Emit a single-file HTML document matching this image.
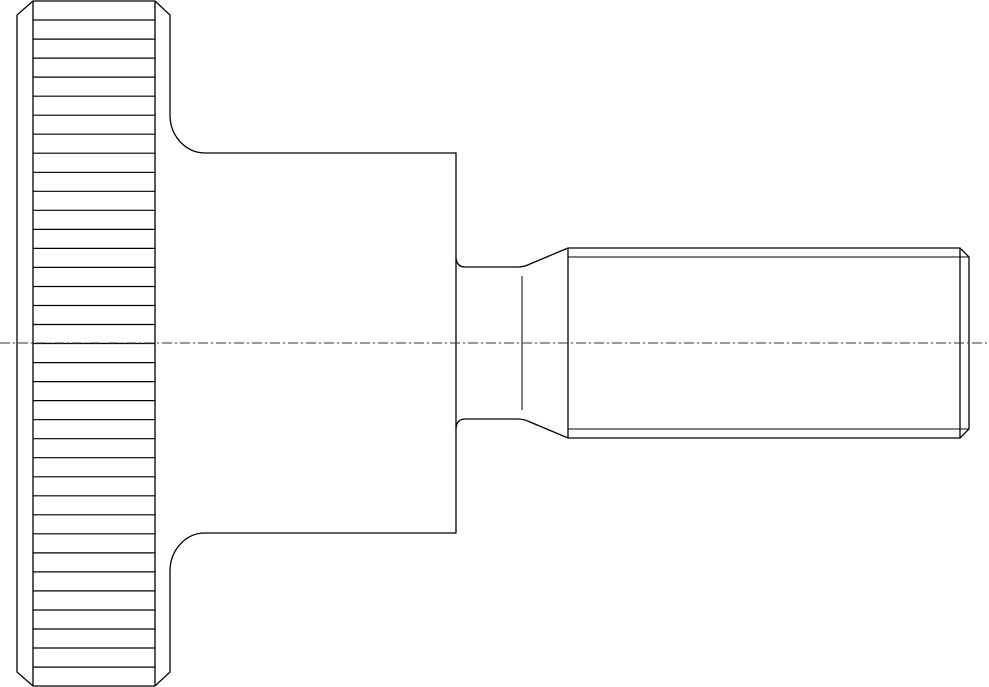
<!DOCTYPE html>
<html><head><style>html,body{margin:0;padding:0;background:#fff}svg{display:block}</style></head>
<body>
<svg width="989" height="687" viewBox="0 0 989 687" xmlns="http://www.w3.org/2000/svg">
<g fill="none" stroke="#000" stroke-width="1.3">
<path d="M33 1 L155 1 L170 15 L170 115 A35 38 0 0 0 205 153 L456 153 L456 533 L205 533 A35 38 0 0 0 170 571 L170 672 L155 686 L33 686 L17 672 L17 15 Z"/>
<line x1="33" y1="1" x2="33" y2="686"/>
<line x1="155" y1="1" x2="155" y2="686"/>
<path stroke-width="1.2" d="M33 20H155M33 39.1H155M33 58.1H155M33 77.1H155M33 96.2H155M33 115.2H155M33 134.2H155M33 153.2H155M33 172.3H155M33 191.3H155M33 210.3H155M33 229.4H155M33 248.4H155M33 267.4H155M33 286.5H155M33 305.5H155M33 324.5H155M33 343.5H155M33 362.6H155M33 381.6H155M33 400.6H155M33 419.7H155M33 438.7H155M33 457.7H155M33 476.8H155M33 495.8H155M33 514.8H155M33 533.8H155M33 552.9H155M33 571.9H155M33 590.9H155M33 610H155M33 629H155M33 648H155M33 667.1H155"/>
<path d="M456 258 Q457 267 465 267 L518 267 Q524 267 530 264 L568 248 L960 248 L969 257 L969 429 L960 438 L568 438 L530 422 Q524 419 518 419 L465 419 Q457 419 456 428"/>
<line x1="522" y1="276" x2="522" y2="410" stroke-width="1"/>
<line x1="568" y1="248" x2="568" y2="438"/>
<line x1="568" y1="257" x2="969" y2="257" stroke-width="1"/>
<line x1="568" y1="429" x2="969" y2="429" stroke-width="1"/>
<line x1="960" y1="248" x2="960" y2="438"/>
<line x1="0" y1="343" x2="989" y2="343" stroke="#333" stroke-width="0.9" stroke-dasharray="10 3 2 3"/>
</g>
</svg>
</body></html>
